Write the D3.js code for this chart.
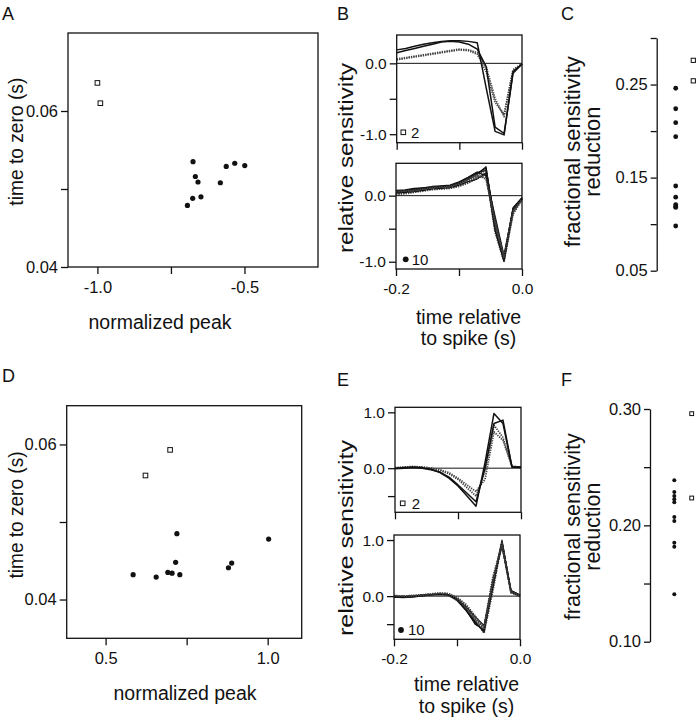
<!DOCTYPE html>
<html><head><meta charset="utf-8">
<script src="https://cdn.jsdelivr.net/npm/d3@7"></script>
<style>
body{margin:0;background:#fff}
text{font-family:"Liberation Sans",Arial,Helvetica,sans-serif;fill:#111}
</style>
</head><body>
<svg id="fig" width="698" height="720"></svg>
<script>
// ---------------- DATA ----------------
// Panel A (OFF cells): normalized peak vs time to zero
const aPeakFilled = [-0.675, -0.667, -0.658, -0.694, -0.676, -0.648, -0.582, -0.562, -0.533, -0.499];
const aTimeFilled = [0.0535, 0.0516, 0.0509, 0.0479, 0.0488, 0.0490, 0.0508, 0.0529, 0.0533, 0.0530];
const aPeakOpen = [-1.0, -0.99];
const aTimeOpen = [0.0636, 0.0610];
const aXTicks = [-1.0, -0.75, -0.5];
const aXLabels = ["-1.0", "", "-0.5"];
const aYTicks = [0.04, 0.05, 0.06];
const aYLabels = ["0.04", "", "0.06"];

// Panel D (ON cells)
const dPeakFilled = [0.585, 0.656, 0.692, 0.705, 0.729, 0.716, 0.720, 0.879, 0.889, 1.003];
const dTimeFilled = [0.0432, 0.0429, 0.0435, 0.0434, 0.0432, 0.0448, 0.0485, 0.0441, 0.0447, 0.0478];
const dPeakOpen = [0.623, 0.699];
const dTimeOpen = [0.0560, 0.0593];
const dXTicks = [0.5, 0.75, 1.0];
const dXLabels = ["0.5", "", "1.0"];
const dYTicks = [0.04, 0.05, 0.06];
const dYLabels = ["0.04", "", "0.06"];

// Time axis for traces (s)
const traceTime = [-0.2, -0.1857, -0.1714, -0.1571, -0.1429, -0.1286, -0.1143, -0.1, -0.0857, -0.0714, -0.0571, -0.0429, -0.0286, -0.0143, 0];
const traceXTicks = [-0.2, -0.1, 0.0];
const traceXLabels = ["-0.2", "", "0.0"];

// Panel B top (2 cells, solid & dotted)
const bTopSolid1 = [0.19, 0.21, 0.24, 0.27, 0.29, 0.31, 0.32, 0.32, 0.31, 0.29, -0.35, -0.96, -1.01, -0.12, -0.01];
const bTopSolid2 = [0.15, 0.18, 0.21, 0.24, 0.27, 0.30, 0.31, 0.30, 0.27, 0.20, -0.05, -0.90, -0.99, -0.14, -0.01];
const bTopDot1 = [0.06, 0.08, 0.10, 0.12, 0.14, 0.16, 0.18, 0.20, 0.19, 0.15, -0.05, -0.50, -0.75, -0.10, -0.01];
const bTopDot2 = [0.05, 0.07, 0.09, 0.11, 0.13, 0.15, 0.17, 0.19, 0.18, 0.13, -0.12, -0.55, -0.72, -0.09, -0.01];

// Panel B bottom (10 cells)
const bBot1 = [0.05, 0.06, 0.08, 0.10, 0.12, 0.13, 0.14, 0.18, 0.24, 0.32, 0.44, -0.45, -1.00, -0.22, -0.04];
const bBot2 = [0.04, 0.05, 0.07, 0.09, 0.11, 0.12, 0.13, 0.16, 0.22, 0.30, 0.40, -0.50, -0.98, -0.25, -0.05];
const bBot3 = [0.07, 0.08, 0.10, 0.12, 0.13, 0.14, 0.15, 0.19, 0.26, 0.34, 0.42, -0.40, -0.95, -0.20, -0.03];
const bBot4 = [0.02, 0.03, 0.05, 0.07, 0.09, 0.10, 0.11, 0.14, 0.19, 0.26, 0.36, -0.55, -1.00, -0.28, -0.06];
const bBot5 = [0.06, 0.07, 0.09, 0.11, 0.12, 0.14, 0.15, 0.20, 0.27, 0.35, 0.38, -0.35, -0.92, -0.18, -0.03];
const bBot6 = [0.03, 0.04, 0.06, 0.08, 0.10, 0.11, 0.12, 0.15, 0.20, 0.27, 0.33, -0.48, -0.97, -0.24, -0.05];
const bBot7 = [0.08, 0.09, 0.11, 0.12, 0.14, 0.15, 0.16, 0.21, 0.28, 0.36, 0.30, -0.30, -0.90, -0.20, -0.04];
const bBot8 = [0.05, 0.06, 0.07, 0.09, 0.11, 0.12, 0.13, 0.17, 0.23, 0.29, 0.28, -0.42, -0.94, -0.26, -0.05];
const bBot9 = [0.04, 0.05, 0.06, 0.08, 0.10, 0.11, 0.12, 0.16, 0.21, 0.25, 0.34, -0.52, -0.99, -0.21, -0.04];
const bBot10 = [0.06, 0.07, 0.08, 0.10, 0.12, 0.13, 0.14, 0.18, 0.25, 0.31, 0.25, -0.38, -0.93, -0.23, -0.05];

// Panel E top (2 cells)
const eTopSolid1 = [0.00, 0.01, 0.02, 0.01, -0.02, -0.08, -0.18, -0.32, -0.50, -0.68, 0.10, 0.98, 0.80, 0.02, 0.01];
const eTopSolid2 = [-0.01, 0.00, 0.01, 0.00, -0.03, -0.07, -0.16, -0.30, -0.45, -0.60, 0.00, 0.80, 0.86, 0.02, 0.02];
const eTopDot1 = [0.00, 0.01, 0.02, 0.02, 0.00, -0.04, -0.10, -0.20, -0.35, -0.50, -0.05, 0.77, 0.55, 0.03, 0.02];
const eTopDot2 = [0.01, 0.02, 0.03, 0.02, 0.00, -0.03, -0.08, -0.18, -0.30, -0.42, -0.20, 0.65, 0.50, 0.03, 0.02];

// Panel E bottom (10 cells)
const eBot1 = [-0.01, -0.02, -0.01, 0.01, 0.03, 0.04, 0.03, -0.06, -0.22, -0.45, -0.65, 0.25, 1.00, 0.08, 0.01];
const eBot2 = [0.00, -0.01, 0.00, 0.02, 0.03, 0.05, 0.04, -0.04, -0.20, -0.40, -0.58, 0.30, 0.95, 0.07, 0.00];
const eBot3 = [-0.02, -0.03, -0.02, 0.00, 0.02, 0.03, 0.02, -0.08, -0.26, -0.48, -0.62, 0.15, 0.98, 0.09, 0.01];
const eBot4 = [0.01, 0.00, 0.01, 0.02, 0.04, 0.05, 0.04, -0.03, -0.17, -0.38, -0.55, 0.35, 0.90, 0.06, 0.00];
const eBot5 = [-0.01, -0.01, 0.00, 0.01, 0.02, 0.04, 0.03, -0.05, -0.24, -0.50, -0.60, 0.20, 0.93, 0.10, 0.02];
const eBot6 = [0.00, -0.02, -0.01, 0.01, 0.03, 0.04, 0.02, -0.07, -0.22, -0.42, -0.66, 0.10, 0.97, 0.08, 0.01];
const eBot7 = [-0.01, -0.01, 0.00, 0.02, 0.03, 0.03, 0.03, -0.05, -0.19, -0.36, -0.52, 0.28, 0.88, 0.07, 0.00];
const eBot8 = [0.00, 0.00, 0.01, 0.01, 0.02, 0.04, 0.05, -0.02, -0.15, -0.35, -0.57, 0.22, 0.92, 0.09, 0.01];
const eBot9 = [-0.02, -0.02, -0.01, 0.00, 0.02, 0.03, 0.02, -0.06, -0.25, -0.46, -0.63, 0.18, 0.96, 0.10, 0.02];
const eBot10 = [0.01, 0.00, 0.00, 0.01, 0.03, 0.05, 0.04, -0.04, -0.21, -0.41, -0.59, 0.26, 0.94, 0.08, 0.01];

// Panel C / F: fractional sensitivity reduction
const cFilled = [0.246, 0.224, 0.209, 0.194, 0.141, 0.129, 0.121, 0.119, 0.118, 0.098];
const cOpen = [0.276, 0.254];
const cTicks = [0.05, 0.10, 0.15, 0.20, 0.25, 0.30];
const cLabels = ["0.05", "", "0.15", "", "0.25", ""];
const fFilled = [0.2387, 0.2287, 0.2252, 0.2224, 0.2198, 0.2071, 0.2037, 0.1851, 0.1817, 0.1407];
const fOpen = [0.296, 0.2235];
const fTicks = [0.10, 0.15, 0.20, 0.25, 0.30];
const fLabels = ["0.10", "", "0.20", "", "0.30"];

// ---------------- DRAWING ----------------
const svg = d3.select("#fig");
svg.append("rect").attr("width", 698).attr("height", 720).attr("fill", "#fff");
const INK = "#111";

function styleAxis(sel, fs) {
  sel.select(".domain").remove();
  sel.selectAll(".tick line").attr("stroke", INK).attr("stroke-width", 1.3);
  sel.selectAll(".tick text").attr("font-size", fs).attr("fill", INK)
     .style("font-family", '"Liberation Sans",Arial,Helvetica,sans-serif');
}

function label(txt, x, y, fs, opts = {}) {
  const t = svg.append("text").attr("font-size", fs).attr("text-anchor", opts.anchor || "start");
  if (opts.rotate) t.attr("transform", `translate(${x},${y}) rotate(-90)`);
  else t.attr("x", x).attr("y", y);
  if (opts.len) t.attr("textLength", opts.len).attr("lengthAdjust", "spacingAndGlyphs");
  t.text(txt);
  return t;
}

function square(g, cx, cy, s, sw) {
  g.append("rect").attr("x", cx - s / 2).attr("y", cy - s / 2).attr("width", s).attr("height", s)
    .attr("fill", "#fff").attr("stroke", INK).attr("stroke-width", sw);
}

function framedScatter(p) {
  const g = svg.append("g");
  const [x0, x1] = p.x.range(), [yb, yt] = p.y.range();
  g.append("rect").attr("x", x0).attr("y", yt).attr("width", x1 - x0).attr("height", yb - yt)
    .attr("fill", "none").attr("stroke", INK).attr("stroke-width", 1.3);
  g.append("g").attr("transform", `translate(0,${yb})`)
    .call(d3.axisBottom(p.x).tickValues(p.xTicks).tickFormat((d, i) => p.xLabels[i]).tickSize(7).tickPadding(7.3))
    .call(s => styleAxis(s, 16.5));
  g.append("g").attr("transform", `translate(${x0},0)`)
    .call(d3.axisLeft(p.y).tickValues(p.yTicks).tickFormat((d, i) => p.yLabels[i]).tickSize(7).tickPadding(3))
    .call(s => styleAxis(s, 16.5));
  p.fx.forEach((v, i) => g.append("circle").attr("cx", p.x(v)).attr("cy", p.y(p.fy[i])).attr("r", 2.6).attr("fill", INK));
  p.ox.forEach((v, i) => square(g, p.x(v), p.y(p.oy[i]), 4.6, 1));
}

// Panel A
framedScatter({
  x: d3.scaleLinear([-1.1, -0.25], [68, 318]),
  y: d3.scaleLinear([0.04, 0.07], [267, 33]),
  xTicks: aXTicks, xLabels: aXLabels, yTicks: aYTicks, yLabels: aYLabels,
  fx: aPeakFilled, fy: aTimeFilled, ox: aPeakOpen, oy: aTimeOpen
});
// Panel D
framedScatter({
  x: d3.scaleLinear([0.38, 1.105], [66.7, 301.7]),
  y: d3.scaleLinear([0.035, 0.065], [638.3, 405.7]),
  xTicks: dXTicks, xLabels: dXLabels, yTicks: dYTicks, yLabels: dYLabels,
  fx: dPeakFilled, fy: dTimeFilled, ox: dPeakOpen, oy: dTimeOpen
});

function tracePanel(p) {
  const g = svg.append("g");
  const [x0, x1] = p.x.range(), [yb, yt] = p.y.range();
  g.append("line").attr("x1", x0).attr("x2", x1).attr("y1", p.y(0)).attr("y2", p.y(0))
    .attr("stroke", INK).attr("stroke-width", 1);
  const line = d3.line().x((d, i) => p.x(traceTime[i])).y(d => p.y(d));
  p.series.forEach(s => {
    g.append("path").attr("d", line(s.v)).attr("fill", "none")
      .attr("stroke", s.dot ? "#444" : INK).attr("stroke-width", s.w || 1.5)
      .attr("stroke-dasharray", s.dot ? "1.3,1.1" : null).attr("stroke-linejoin", "round");
  });
  g.append("rect").attr("x", x0).attr("y", yt).attr("width", x1 - x0).attr("height", yb - yt)
    .attr("fill", "none").attr("stroke", INK).attr("stroke-width", 1.3);
  g.append("g").attr("transform", `translate(0,${yb})`)
    .call(d3.axisBottom(p.x).tickValues(traceXTicks).tickFormat((d, i) => p.showX ? traceXLabels[i] : "").tickSize(7).tickPadding(7))
    .call(s => styleAxis(s, 15.5));
  g.append("g").attr("transform", `translate(${x0},0)`)
    .call(d3.axisLeft(p.y).tickValues(p.yTicks).tickFormat((d, i) => p.yLabels[i]).tickSize(7).tickPadding(3))
    .call(s => styleAxis(s, 15.5));
  // legend
  const lx = x0 + p.leg[0], ly = yb + p.leg[1];
  if (p.legSquare) square(g, lx, ly, 4.6, 1);
  else g.append("circle").attr("cx", lx).attr("cy", ly).attr("r", 2.9).attr("fill", INK);
  g.append("text").attr("x", x0 + p.leg[2]).attr("y", ly + 5.3).attr("font-size", 15).text(p.legText);
}

const bundleB = [bBot1, bBot2, bBot3, bBot4, bBot5, bBot6, bBot7, bBot8, bBot9, bBot10];
const bundleE = [eBot1, eBot2, eBot3, eBot4, eBot5, eBot6, eBot7, eBot8, eBot9, eBot10];

tracePanel({
  x: d3.scaleLinear([-0.2, 0], [396.7, 522]), y: d3.scaleLinear([-1.12, 0.4], [142.7, 35]),
  yTicks: [-1, -0.5, 0], yLabels: ["-1.0", "", "0.0"], showX: false,
  series: [{v: bTopDot1, dot: true, w: 1.8}, {v: bTopDot2, dot: true, w: 1.8}, {v: bTopSolid1}, {v: bTopSolid2}],
  leg: [6.6, -10.4, 14.3], legSquare: true, legText: "2"
});
tracePanel({
  x: d3.scaleLinear([-0.2, 0], [396, 522]), y: d3.scaleLinear([-1.11, 0.49], [269, 163.3]),
  yTicks: [-1, -0.5, 0], yLabels: ["-1.0", "", "0.0"], showX: true,
  series: bundleB.map((v, i) => ({v, dot: i % 2 === 1, w: i % 2 ? 1.8 : 1.1})),
  leg: [9.7, -9.7, 15.7], legSquare: false, legText: "10"
});
tracePanel({
  x: d3.scaleLinear([-0.2, 0], [395, 521]), y: d3.scaleLinear([-0.79, 1.09], [512.3, 407.3]),
  yTicks: [-0.5, 0, 1], yLabels: ["", "0.0", "1.0"], showX: false,
  series: [{v: eTopDot1, dot: true, w: 1.8}, {v: eTopDot2, dot: true, w: 1.8}, {v: eTopSolid1}, {v: eTopSolid2}],
  leg: [7.7, -9, 16.7], legSquare: true, legText: "2"
});
tracePanel({
  x: d3.scaleLinear([-0.2, 0], [394, 520]), y: d3.scaleLinear([-0.77, 1.09], [639.3, 535]),
  yTicks: [-0.5, 0, 1], yLabels: ["", "0.0", "1.0"], showX: true,
  series: bundleE.map((v, i) => ({v, dot: i % 2 === 1, w: i % 2 ? 1.8 : 1.1})),
  leg: [7, -9.3, 14], legSquare: false, legText: "10"
});

function stripPanel(p) {
  const g = svg.append("g");
  g.append("g").attr("transform", `translate(${p.ax},0)`)
    .call(d3.axisLeft(p.y).tickValues(p.ticks).tickFormat((d, i) => p.labels[i]).tickSize(6).tickSizeOuter(0).tickPadding(3))
    .call(s => {
      s.select(".domain").attr("stroke", INK).attr("stroke-width", 1.3);
      s.selectAll(".tick line").attr("stroke", INK).attr("stroke-width", 1.3);
      s.selectAll(".tick text").attr("font-size", 16.5).attr("fill", INK)
        .style("font-family", '"Liberation Sans",Arial,Helvetica,sans-serif');
    });
  p.filled.forEach(v => g.append("circle").attr("cx", p.x("filled")).attr("cy", p.y(v)).attr("r", p.r).attr("fill", INK));
  p.open.forEach(v => square(g, p.x("open"), p.y(v), p.s, 1));
}
stripPanel({
  ax: 656.7, y: d3.scaleLinear([0.05, 0.30], [270.7, 38]),
  x: d3.scalePoint().domain(["filled", "open"]).range([675.7, 693.3]),
  ticks: cTicks, labels: cLabels, filled: cFilled, open: cOpen, r: 2.4, s: 4.2
});
stripPanel({
  ax: 650, y: d3.scaleLinear([0.10, 0.30], [641.7, 409]),
  x: d3.scalePoint().domain(["filled", "open"]).range([674.3, 691.7]),
  ticks: fTicks, labels: fLabels, filled: fFilled, open: fOpen, r: 2.0, s: 3.8
});

// Panel letters
label("A", 2, 19.5, 18);
label("B", 337, 19.5, 18);
label("C", 561, 20, 18);
label("D", 2, 382, 18);
label("E", 337, 386, 18);
label("F", 561, 386, 18);

// Axis titles
label("normalized peak", 160, 329, 19.5, {anchor: "middle"});
label("normalized peak", 185, 700, 19.5, {anchor: "middle"});
label("time to zero (s)", 23, 141.7, 19.5, {anchor: "middle", rotate: true, len: 128});
label("time to zero (s)", 23, 515, 19.5, {anchor: "middle", rotate: true, len: 127});
label("relative sensitivity", 353, 158, 20, {anchor: "middle", rotate: true, len: 190});
label("relative  sensitivity", 353, 538, 20, {anchor: "middle", rotate: true, len: 196});
label("time relative", 468.5, 323.5, 19.5, {anchor: "middle"});
label("to spike (s)", 468.5, 345, 19.5, {anchor: "middle"});
label("time relative", 466.5, 690.5, 19.5, {anchor: "middle"});
label("to spike (s)", 466.5, 713, 19.5, {anchor: "middle"});
label("fractional sensitivity", 579.5, 151.7, 21.5, {anchor: "middle", rotate: true, len: 191});
label("reduction", 600, 151.7, 21.5, {anchor: "middle", rotate: true, len: 90});
label("fractional sensitivity", 579.5, 526.7, 21.5, {anchor: "middle", rotate: true, len: 187});
label("reduction", 600, 526.7, 21.5, {anchor: "middle", rotate: true, len: 88});
</script>
</body></html>
